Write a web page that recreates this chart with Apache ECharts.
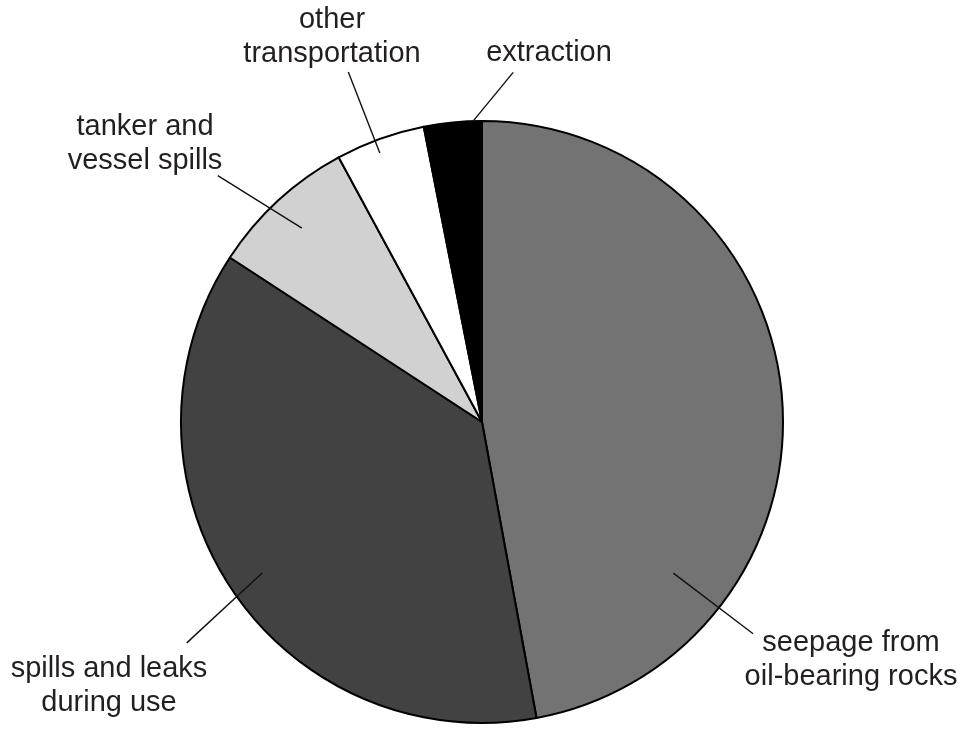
<!DOCTYPE html>
<html>
<head>
<meta charset="utf-8">
<title>Oil in the sea</title>
<script src="https://cdn.jsdelivr.net/npm/echarts@6/dist/echarts.min.js"></script>
<style>
  html, body { margin: 0; padding: 0; background: #fff; }
  #chart { width: 965px; height: 729px; }
</style>
</head>
<body>
<div id="chart"></div>
<script>
// sources of oil entering the sea (share in %)
var categories = [
  "seepage from\noil-bearing rocks",
  "spills and leaks\nduring use",
  "tanker and\nvessel spills",
  "other\ntransportation",
  "extraction"
];
var shares = [47.1, 37.1, 7.9, 4.8, 3.1];
var colors = ["#737373", "#424242", "#d1d1d1", "#ffffff", "#000000"];

var cx = 482, cy = 422, R = 301;

// leader lines in polar terms: [angle clockwise from top, r start / R, angle end, r end / R]
// and label centres as offsets from the pie centre
var guides = [
  { a0: 128.3, r0: 0.81, a1: 128.0, r1: 1.143, lx: 369, ly: 238 },
  { a0: 235.5, r0: 0.886, a1: 233.2, r1: 1.225, lx: -373, ly: 264 },
  { a0: 317.1, r0: 0.879, a1: 313.0, r1: 1.2, lx: -337, ly: -278 },
  { a0: 339.2, r0: 0.956, a1: 339.1, r1: 1.245, lx: -150, ly: -385 },
  { a0: 358.3, r0: 1.0, a1: 5.1, r1: 1.166, lx: 67, ly: -369 }
];

function polar(angle, r) {
  var t = angle * Math.PI / 180;
  return [cx + Math.sin(t) * r * R, cy - Math.cos(t) * r * R];
}

var chart = echarts.init(document.getElementById("chart"));

chart.setOption({
  animation: false,
  series: [
    {
      // the slices
      type: "pie",
      z: 2,
      center: [cx, cy],
      radius: R,
      startAngle: 90,
      clockwise: true,
      silent: true,
      itemStyle: {
        borderColor: "#000",
        borderWidth: 2
      },
      label: { show: false },
      labelLine: { show: false },
      data: categories.map(function (name, i) {
        return { name: name, value: shares[i], itemStyle: { color: colors[i] } };
      })
    },
    {
      // transparent copy on top, only carries labels and leader lines
      type: "pie",
      z: 3,
      center: [cx, cy],
      radius: R,
      startAngle: 90,
      clockwise: true,
      avoidLabelOverlap: false,
      silent: true,
      itemStyle: {
        color: "rgba(0,0,0,0)",
        borderWidth: 0
      },
      label: {
        show: true,
        position: "outside",
        formatter: "{b}",
        color: "#231f20",
        fontFamily: "Liberation Sans, Arial, sans-serif",
        fontSize: 29,
        lineHeight: 34,
        align: "center"
      },
      labelLine: {
        show: true,
        lineStyle: { color: "#111", width: 1.4 }
      },
      labelLayout: function (params) {
        var g = guides[params.dataIndex];
        var p0 = polar(g.a0, g.r0);
        var p1 = polar(g.a1, g.r1);
        return {
          x: cx + g.lx,
          y: cy + g.ly,
          align: "center",
          verticalAlign: "middle",
          labelLinePoints: [p0, p1, p1]
        };
      },
      data: categories.map(function (name, i) {
        return { name: name, value: shares[i] };
      })
    }
  ]
});
</script>
</body>
</html>
